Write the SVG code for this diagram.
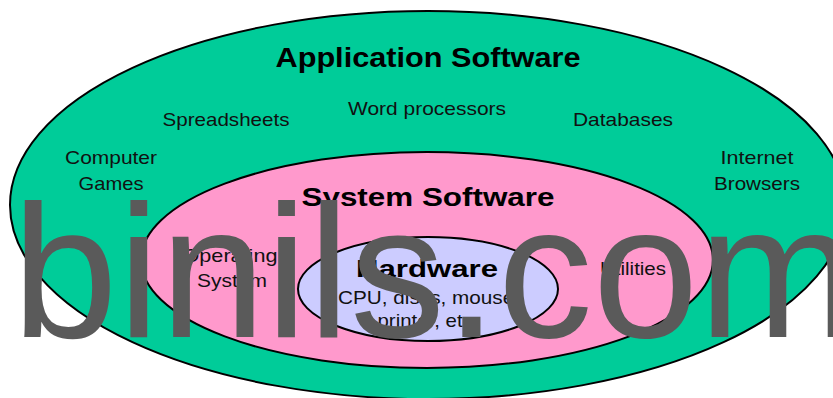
<svg xmlns="http://www.w3.org/2000/svg" width="833" height="398" viewBox="0 0 833 398">
<style>
.ring{stroke:#000;stroke-width:2}
.t{font-family:"Liberation Sans",Arial,sans-serif;font-size:19px;fill:#111;text-anchor:middle}
.h{font-family:"Liberation Sans",Arial,sans-serif;font-weight:bold;fill:#000;text-anchor:middle}
.wm{font-family:"Liberation Sans",Arial,sans-serif;font-size:190px;fill:#5a5a5a}
</style>
<rect width="833" height="398" fill="#fff"/>
<g id="application-software">
<ellipse class="ring" cx="428" cy="205" rx="418" ry="194" fill="#00CC99"/>
<text class="h" x="428" y="67" font-size="28" textLength="305" lengthAdjust="spacingAndGlyphs">Application Software</text>
<text class="t" x="427" y="115" textLength="158" lengthAdjust="spacingAndGlyphs">Word processors</text>
<text class="t" x="226" y="126" textLength="127" lengthAdjust="spacingAndGlyphs">Spreadsheets</text>
<text class="t" x="623" y="126" textLength="100" lengthAdjust="spacingAndGlyphs">Databases</text>
<text class="t" x="111" y="164" textLength="92" lengthAdjust="spacingAndGlyphs">Computer</text>
<text class="t" x="111" y="190" textLength="65" lengthAdjust="spacingAndGlyphs">Games</text>
<text class="t" x="757" y="164" textLength="73" lengthAdjust="spacingAndGlyphs">Internet</text>
<text class="t" x="757" y="190" textLength="86" lengthAdjust="spacingAndGlyphs">Browsers</text>
</g>
<g id="system-software">
<ellipse class="ring" cx="427" cy="260" rx="286" ry="108" fill="#FF99CC"/>
<text class="h" x="428" y="206" font-size="25" textLength="253" lengthAdjust="spacingAndGlyphs">System Software</text>
<text class="t" x="230" y="262" textLength="95" lengthAdjust="spacingAndGlyphs">Operating</text>
<text class="t" x="232" y="287" textLength="70" lengthAdjust="spacingAndGlyphs">System</text>
<text class="t" x="633" y="275" textLength="66" lengthAdjust="spacingAndGlyphs">Utilities</text>
</g>
<g id="hardware">
<ellipse class="ring" cx="428" cy="289" rx="130" ry="52" fill="#CCCCFF"/>
<text class="h" x="427" y="277" font-size="24" textLength="142" lengthAdjust="spacingAndGlyphs">Hardware</text>
<text class="t" x="429" y="304" font-size="18" textLength="182" lengthAdjust="spacingAndGlyphs">CPU, disks, mouse,</text>
<text class="t" x="428" y="327" font-size="18" textLength="101" lengthAdjust="spacingAndGlyphs">printer, etc.</text>
</g>
<g id="watermark">
<text class="wm" x="12" y="337">binils.com</text>
</g>
</svg>
